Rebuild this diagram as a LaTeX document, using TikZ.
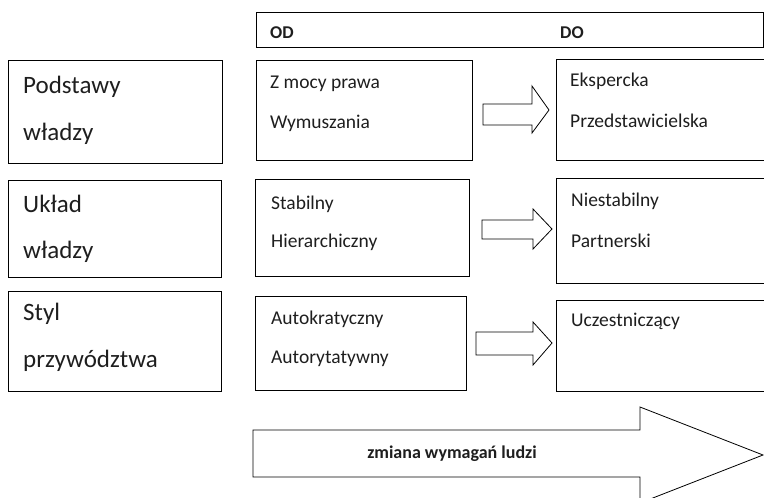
\documentclass[tikz,border=0pt]{standalone}
\usepackage{fontspec}
\setmainfont{Carlito}
\definecolor{ink}{RGB}{30,30,30}
\begin{document}
\begin{tikzpicture}[x=1pt,y=-1pt,
  box/.style={draw=black,line width=0.9pt},
  blockarrow/.style={draw=black,line width=0.8pt,fill=white,line join=miter},
  bigtxt/.style={inner sep=0pt,anchor=base west,text=ink,font=\fontsize{25}{28}\selectfont},
  txt/.style={inner sep=0pt,anchor=base west,text=ink,font=\fontsize{19.5}{22}\selectfont},
  headtxt/.style={inner sep=0pt,anchor=base west,text=ink,font=\bfseries\fontsize{18}{21}\selectfont},
  arrowtxt/.style={inner sep=0pt,anchor=base,text=ink,font=\bfseries\fontsize{18}{21}\selectfont}]
\useasboundingbox (0,0) rectangle (764,498);

% header
\draw[box] (256,12) rectangle (763,47);
\node[headtxt] (od) at (270,38) {OD};
\node[headtxt] (do) at (560,38) {DO};

% row 1
\draw[box] (8,60) rectangle (222,163);
\draw[box] (256,60) rectangle (472,160);
\draw[box] (556,59) rectangle (766,160);
\node[bigtxt] (p1a) at (23,93) {Podstawy};
\node[bigtxt] (p1b) at (23,140) {władzy};
\node[txt] (m1a) at (270,88) {Z mocy prawa};
\node[txt] (m1b) at (270,128) {Wymuszania};
\node[txt] (r1a) at (570,86) {Ekspercka};
\node[txt] (r1b) at (570,127) {Przedstawicielska};
\draw[blockarrow] (483,104) -- (532,104) -- (532,86) -- (549,110) -- (532,133) -- (532,125) -- (483,125) -- cycle;

% row 2
\draw[box] (8,180) rectangle (221,277);
\draw[box] (255,179) rectangle (469,276);
\draw[box] (556,178) rectangle (766,283);
\node[bigtxt] (p2a) at (23,212) {Układ};
\node[bigtxt] (p2b) at (23,258) {władzy};
\node[txt] (m2a) at (271,209) {Stabilny};
\node[txt] (m2b) at (271,247) {Hierarchiczny};
\node[txt] (r2a) at (571,206) {Niestabilny};
\node[txt] (r2b) at (571,247) {Partnerski};
\draw[blockarrow] (482,220) -- (533,220) -- (533,209) -- (552,229) -- (533,249) -- (533,239) -- (482,239) -- cycle;

% row 3
\draw[box] (8,291) rectangle (221,391);
\draw[box] (255,296) rectangle (466,390);
\draw[box] (556,300) rectangle (766,391);
\node[bigtxt] (p3a) at (23,320) {Styl};
\node[bigtxt] (p3b) at (23,367) {przywództwa};
\node[txt] (m3a) at (271,324) {Autokratyczny};
\node[txt] (m3b) at (271,363) {Autorytatywny};
\node[txt] (r3a) at (571,326) {Uczestniczący};
\draw[blockarrow] (476,332) -- (533,332) -- (533,322) -- (552,343) -- (533,365) -- (533,355) -- (476,355) -- cycle;

% big arrow at the bottom
\draw[blockarrow] (253,430) -- (640,430) -- (640,407) -- (763,455) -- (640,503) -- (640,477) -- (253,477) -- cycle;
\node[arrowtxt] (chg) at (452,458) {zmiana wymagań ludzi};
\end{tikzpicture}
\end{document}
